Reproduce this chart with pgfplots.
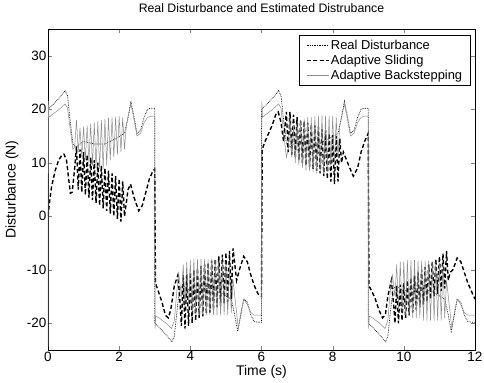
\documentclass[border=0pt]{standalone}
\usepackage{pgfplots}
\pgfplotsset{compat=1.18}
\usepackage{fontspec}
\setmainfont{Liberation Sans}
\begin{document}
\begin{tikzpicture}
\fill[white] (-48pt,-33pt) rectangle (436pt,350pt);
\begin{axis}[
  scale only axis, width=427pt, height=321pt,
  xmin=0, xmax=12, ymin=-25, ymax=35,
  xtick={0,2,4,6,8,10,12}, ytick={-20,-10,0,10,20,30},
  tick align=inside, major tick length=4pt,
  xtick pos=both, ytick pos=both,
  axis line style={line width=0.8pt},
  /pgf/number format/assume math mode=true,
  ticklabel style={font=\fontsize{13.5}{15}\selectfont},
  xticklabel style={inner sep=1.5pt},
  yticklabel style={inner sep=1.5pt},
  title={Real Disturbance and Estimated Distrubance},
  title style={font=\fontsize{12.3}{14}\selectfont, at={(0.5,1.0467)}, anchor=center},
  xlabel={Time (s)},
  xlabel style={font=\fontsize{14}{16}\selectfont, at={(0.5,-0.0685)}, anchor=center},
  ylabel={Disturbance (N)},
  ylabel style={font=\fontsize{14}{16}\selectfont, at={(-0.0843,0.5)}, anchor=center},
  legend style={at={(0.9906,0.981)}, anchor=north east, font=\fontsize{12.9}{15}\selectfont, draw=black, line width=0.6pt, row sep=1.2pt, inner xsep=7pt, inner ysep=3pt, nodes={inner sep=1.5pt}},
  legend cell align=left,
  legend image code/.code={\draw[#1] (0pt,0pt) -- (22pt,0pt);},
]
% Real Disturbance
\addplot[black, densely dotted, line width=0.7pt] coordinates {
(0,20.0)(0.1,20.6)(0.2,21.3)(0.3,22.0)(0.4,22.8)(0.48,23.5)(0.55,22.5)(0.62,18)(0.70,13.5)(0.80,13.0)(1.00,14.0)(1.30,13.5)(1.60,13.5)(1.90,14.5)(2.15,15.5)(2.25,18.5)(2.33,21.5)(2.42,18.5)(2.50,15.5)(2.60,16.0)(2.70,18.5)(2.80,20.0)(2.90,20.2)(3.00,20.2)
(3.001,-20.0)(3.1,-20.6)(3.2,-21.3)(3.3,-22.0)(3.4,-22.8)(3.48,-23.5)(3.55,-22.5)(3.62,-18)(3.70,-13.5)(3.80,-13.0)(4.00,-14.0)(4.30,-13.5)(4.60,-13.5)(4.90,-14.5)(5.15,-15.5)(5.25,-18.5)(5.33,-21.5)(5.42,-18.5)(5.50,-15.5)(5.60,-16.0)(5.70,-18.5)(5.80,-19.7)(5.90,-19.8)(6.00,-19.8)
(6.001,20.0)(6.1,20.6)(6.2,21.3)(6.3,22.0)(6.4,22.8)(6.48,23.5)(6.55,22.5)(6.62,18)(6.70,13.5)(6.80,13.0)(7.00,14.0)(7.30,13.5)(7.60,13.5)(7.90,14.5)(8.15,15.5)(8.25,18.5)(8.33,21.5)(8.42,18.5)(8.50,15.5)(8.60,16.0)(8.70,18.5)(8.80,20.0)(8.90,20.2)(9.00,20.2)
(9.001,-20.0)(9.1,-20.6)(9.2,-21.3)(9.3,-22.0)(9.4,-22.8)(9.48,-23.5)(9.55,-22.5)(9.62,-18)(9.70,-13.5)(9.80,-13.0)(10.00,-14.0)(10.30,-13.5)(10.60,-13.5)(10.90,-14.5)(11.15,-15.5)(11.25,-18.5)(11.33,-21.5)(11.42,-18.5)(11.50,-15.5)(11.60,-16.0)(11.70,-18.5)(11.80,-19.7)(11.90,-19.8)(12.00,-19.8)
};
\addlegendentry{Real Disturbance}
% Adaptive Sliding
\addplot[black, line width=1.4pt, dash pattern=on 4pt off 2.5pt] coordinates {
(0.00,0)(0.05,3)(0.10,5.5)(0.20,8.5)(0.30,10.5)(0.40,11.5)(0.45,11.6)(0.52,10.5)(0.58,7)(0.63,4.3)(0.68,4.5)(0.75,9)
(0.80,13.0)(0.85,5.0)(0.90,12.5)(0.95,4.5)(1.00,12.0)(1.05,4.0)(1.10,11.5)(1.15,3.5)(1.20,11.0)(1.25,3.0)(1.30,10.5)(1.35,2.5)(1.40,10.0)(1.45,2.0)(1.50,9.5)(1.55,1.5)(1.60,9.0)(1.65,1.0)(1.70,8.5)(1.75,0.5)(1.80,8.0)(1.85,0.0)(1.90,7.5)(1.95,-0.5)(2.00,7.0)(2.05,-1.0)(2.10,6.5)(2.15,0.0)
(2.25,5.0)(2.32,6.0)(2.42,3.5)(2.55,1.0)(2.65,2.0)(2.75,4.5)(2.85,7.0)(2.95,8.5)(3.00,8.8)
(3.02,-12.5)(3.10,-14)(3.20,-16)(3.30,-18.5)(3.38,-19)(3.45,-17.5)(3.55,-13)(3.65,-11)(3.70,-15)
(3.75,-20.5)(3.80,-11.0)(3.85,-21.0)(3.90,-10.8)(3.95,-20.5)(4.00,-10.5)(4.05,-20.0)(4.10,-10.0)(4.15,-19.5)(4.20,-9.7)(4.25,-19.0)(4.30,-9.3)(4.35,-18.7)(4.40,-9.0)(4.45,-18.3)(4.50,-8.7)(4.55,-18.0)(4.60,-8.3)(4.65,-17.5)(4.70,-8.0)(4.75,-17.0)(4.80,-7.5)(4.85,-16.7)(4.90,-7.2)(4.95,-16.3)(5.00,-6.8)(5.05,-16.0)(5.10,-6.5)(5.15,-15.5)(5.20,-6.0)
(5.30,-12)(5.38,-10)(5.50,-7.5)(5.60,-8.5)(5.70,-11)(5.80,-13)(5.90,-14.5)(6.00,-15)
(6.02,12.5)(6.10,14)(6.20,15.5)(6.30,17)(6.40,19)(6.47,19.5)(6.55,17.5)(6.62,14)(6.70,19.5)
(6.75,12.0)(6.80,19.5)(6.85,11.5)(6.90,19.0)(6.95,11.0)(7.00,18.5)(7.05,10.5)(7.10,18.0)(7.15,10.0)(7.20,17.8)(7.25,9.5)(7.30,17.5)(7.35,9.2)(7.40,17.2)(7.45,8.8)(7.50,17.0)(7.55,8.5)(7.60,16.7)(7.65,8.0)(7.70,16.3)(7.75,7.5)(7.80,16.0)(7.85,7.0)(7.90,15.5)(7.95,6.5)(8.00,15.2)(8.05,6.0)(8.10,15.0)(8.15,6.5)(8.20,14.5)
(8.25,10)(8.30,12.0)(8.45,9.5)(8.58,7.5)(8.70,9)(8.80,12)(8.90,14)(9.00,15.5)
(9.02,-13)(9.10,-14)(9.20,-15.5)(9.30,-17.5)(9.40,-19)(9.48,-18.5)(9.55,-15)(9.65,-12)(9.72,-17)
(9.75,-20.0)(9.80,-13.0)(9.85,-20.0)(9.90,-12.8)(9.95,-19.5)(10.00,-12.5)(10.05,-19.0)(10.10,-12.0)(10.15,-18.5)(10.20,-11.5)(10.25,-18.0)(10.30,-11.0)(10.35,-17.5)(10.40,-10.5)(10.45,-17.0)(10.50,-10.0)(10.55,-16.5)(10.60,-9.5)(10.65,-16.0)(10.70,-9.0)(10.75,-15.5)(10.80,-8.5)(10.85,-15.0)(10.90,-8.0)(10.95,-14.5)(11.00,-7.5)(11.05,-14.0)(11.10,-7.0)(11.15,-13.5)(11.20,-6.5)
(11.25,-12.0)(11.30,-10.5)(11.38,-10)(11.50,-7.8)(11.60,-8.5)(11.70,-10.5)(11.80,-12.5)(11.90,-14)(12.00,-15.5)
};
\addlegendentry{Adaptive Sliding}
% Adaptive Backstepping
\addplot[black!45, line width=0.5pt] coordinates {
(0,-24.5)(0.01,21.5)(0.03,18.5)(0.1,18.9)(0.2,19.4)(0.3,19.9)(0.4,20.5)(0.48,21.0)(0.55,20.2)(0.62,16.5)(0.70,12.5)(0.75,13)
(0.80,18.0)(0.85,12.0)(0.90,16.5)(0.95,11.0)(1.00,16.8)(1.05,10.5)(1.10,17.0)(1.15,10.0)(1.20,17.3)(1.25,9.5)(1.30,17.5)(1.35,9.0)(1.40,17.8)(1.45,8.8)(1.50,18.0)(1.55,8.8)(1.60,18.2)(1.65,9.5)(1.70,18.4)(1.75,10.5)(1.80,18.5)(1.85,11.0)(1.90,18.6)(1.95,11.5)(2.00,18.7)(2.05,12.0)(2.10,18.5)(2.15,12.5)(2.20,17.0)
(2.33,21.0)(2.42,18.0)(2.50,15.0)(2.60,15.5)(2.70,17.5)(2.80,18.5)(2.90,18.7)(3.00,18.7)
(3.01,-21.0)(3.03,-18.7)(3.10,-18.9)(3.20,-19.4)(3.30,-19.9)(3.40,-20.5)(3.47,-21.0)(3.55,-19.5)(3.62,-14)(3.68,-11)(3.75,-15)
(3.80,-9.0)(3.85,-17.0)(3.90,-8.5)(3.95,-17.5)(4.00,-8.2)(4.05,-18.0)(4.10,-8.0)(4.15,-18.0)(4.20,-8.0)(4.25,-18.5)(4.30,-8.0)(4.35,-18.5)(4.40,-8.0)(4.45,-18.5)(4.50,-8.0)(4.55,-18.5)(4.60,-8.0)(4.65,-18.5)(4.70,-8.2)(4.75,-18.5)(4.80,-8.3)(4.85,-18.5)(4.90,-8.5)(4.95,-18.5)(5.00,-8.5)(5.05,-18.5)(5.10,-9.0)(5.15,-18.0)(5.20,-12.0)
(5.35,-21.0)(5.42,-18)(5.50,-15.5)(5.60,-16.5)(5.70,-18.0)(5.80,-18.5)(5.90,-18.5)(6.00,-18.5)
(6.01,21.5)(6.03,18.5)(6.1,18.9)(6.2,19.4)(6.3,19.9)(6.4,20.5)(6.48,21.0)(6.55,20.2)(6.62,15.5)(6.70,11.0)(6.75,12.5)
(6.80,18.5)(6.85,11.0)(6.90,17.0)(6.95,10.0)(7.00,17.5)(7.05,9.5)(7.10,18.0)(7.15,9.0)(7.20,18.2)(7.25,8.5)(7.30,18.5)(7.35,8.5)(7.40,18.5)(7.45,8.2)(7.50,18.7)(7.55,8.0)(7.60,18.8)(7.65,8.0)(7.70,18.8)(7.75,8.2)(7.80,18.8)(7.85,8.5)(7.90,18.8)(7.95,9.0)(8.00,18.7)(8.05,9.5)(8.10,18.5)(8.15,11.0)(8.20,17.0)
(8.33,21.0)(8.42,18.0)(8.50,15.0)(8.60,15.5)(8.70,17.5)(8.80,18.5)(8.90,18.7)(9.00,18.7)
(9.01,-21.0)(9.03,-18.7)(9.10,-18.9)(9.20,-19.4)(9.30,-19.9)(9.40,-20.5)(9.47,-21.0)(9.55,-19.5)(9.62,-14)(9.68,-11)(9.75,-15)
(9.80,-9.0)(9.85,-17.5)(9.90,-8.5)(9.95,-18.0)(10.00,-8.3)(10.05,-18.5)(10.10,-8.2)(10.15,-18.5)(10.20,-8.2)(10.25,-19.0)(10.30,-8.2)(10.35,-19.0)(10.40,-8.3)(10.45,-19.0)(10.50,-8.3)(10.55,-19.5)(10.60,-8.3)(10.65,-19.5)(10.70,-8.3)(10.75,-19.5)(10.80,-8.5)(10.85,-19.5)(10.90,-8.5)(10.95,-19.5)(11.00,-8.7)(11.05,-19.5)(11.10,-9.0)(11.15,-19.0)(11.20,-12.0)
(11.35,-21.0)(11.42,-18)(11.50,-15.5)(11.60,-16.5)(11.70,-18.0)(11.80,-18.5)(11.90,-18.5)(12.00,-18.5)
};
\addlegendentry{Adaptive Backstepping}
\end{axis}
\end{tikzpicture}
\end{document}
